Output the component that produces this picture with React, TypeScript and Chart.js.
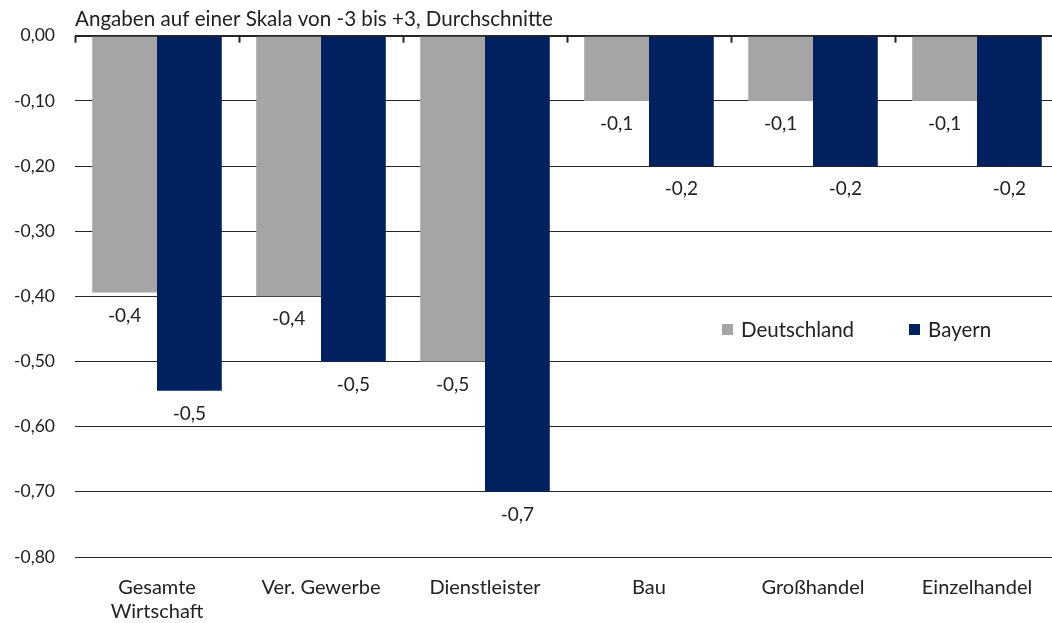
import React, { useEffect, useRef } from "react";
import { Chart, registerables } from "chart.js";

Chart.register(...registerables);

const categories: (string | string[])[] = [
  ["Gesamte", "Wirtschaft"],
  "Ver. Gewerbe",
  "Dienstleister",
  "Bau",
  "Großhandel",
  "Einzelhandel",
];
const deutschland = [-0.394, -0.4, -0.5, -0.1, -0.1, -0.1];
const bayern = [-0.545, -0.5, -0.7, -0.2, -0.2, -0.2];
const seriesNames = ["Deutschland", "Bayern"];
const colors = ["#a5a5a5", "#002060"];
const title = "Angaben auf einer Skala von -3 bis +3, Durchschnitte";

const FONT = "'Source Sans Pro', Lato, 'Noto Sans', sans-serif";

const fmt1 = (v: number) => v.toFixed(1).replace(".", ",");
const fmt2 = (v: number) => v.toFixed(2).replace(".", ",");

const labelPlugin = {
  id: "valueLabels",
  afterDatasetsDraw(chart: any) {
    const ctx = chart.ctx;
    ctx.save();
    ctx.font = `19px ${FONT}`;
    ctx.fillStyle = "#222";
    ctx.textAlign = "center";
    ctx.textBaseline = "middle";
    chart.data.datasets.forEach((ds: any, di: number) => {
      const meta = chart.getDatasetMeta(di);
      meta.data.forEach((bar: any, i: number) => {
        ctx.fillText(fmt1(ds.data[i]), bar.x, bar.y + 23);
      });
    });
    ctx.restore();
  },
};

const topTicksPlugin = {
  id: "topTicks",
  afterDraw(chart: any) {
    const x = chart.scales.x;
    const { top } = chart.chartArea;
    const ctx = chart.ctx;
    const n = categories.length;
    const w = (x.right - x.left) / n;
    ctx.save();
    ctx.strokeStyle = "#262626";
    ctx.lineWidth = 2;
    for (let i = 0; i <= n; i++) {
      const px = Math.round(x.left + i * w) + 0.5;
      ctx.beginPath();
      ctx.moveTo(px, top);
      ctx.lineTo(px, top + 7);
      ctx.stroke();
    }
    ctx.restore();
  },
};

export default function App() {
  const ref = useRef<HTMLCanvasElement>(null);

  useEffect(() => {
    document.body.style.margin = "0";
    const chart = new Chart(ref.current!, {
      type: "bar",
      data: {
        labels: categories,
        datasets: [
          { label: seriesNames[0], data: deutschland, backgroundColor: colors[0] },
          { label: seriesNames[1], data: bayern, backgroundColor: colors[1] },
        ],
      },
      options: {
        animation: false,
        responsive: false,
        maintainAspectRatio: false,
        layout: { padding: { left: 0, right: 0, top: 0, bottom: 0 } },
        datasets: { bar: { barPercentage: 1, categoryPercentage: 0.79 } },
        plugins: {
          legend: { display: false },
          tooltip: { enabled: false },
          title: {
            display: true,
            text: title,
            align: "start",
            fullSize: false,
            color: "#222",
            font: { family: FONT, size: 20.6, weight: "normal", lineHeight: 1.2 },
            padding: { top: 7, bottom: 4 },
          },
        },
        scales: {
          x: {
            grid: { display: false },
            border: { display: false },
            afterFit: (s: any) => {
              s.height = 66;
            },
            ticks: {
              color: "#222",
              font: { family: FONT, size: 20, lineHeight: 1.22 },
              padding: 10,
              maxRotation: 0,
              autoSkip: false,
            },
          },
          y: {
            min: -0.8,
            max: 0,
            border: { display: false },
            afterFit: (s: any) => {
              s.width = 75;
            },
            grid: {
              drawTicks: false,
              color: "#262626",
              lineWidth: (c: any) => (c.tick && c.tick.value === 0 ? 2 : 1),
            },
            ticks: {
              stepSize: 0.1,
              color: "#222",
              padding: 20,
              font: { family: FONT, size: 17.5 },
              callback: (v: any) => fmt2(Number(v)),
            },
          },
        },
      },
      plugins: [labelPlugin, topTicksPlugin],
    });
    return () => chart.destroy();
  }, []);

  return (
    <div style={{ position: "relative", width: 1052, height: 623, overflow: "hidden" }}>
      <canvas ref={ref} width={1059} height={623} style={{ display: "block" }} />
      <div
        style={{
          position: "absolute",
          left: 722,
          top: 317,
          display: "flex",
          alignItems: "center",
          fontFamily: FONT,
          fontSize: 20.5,
          color: "#222",
        }}
      >
        {seriesNames.map((n, i) => (
          <div key={n} style={{ display: "flex", alignItems: "center", marginRight: i === 0 ? 55 : 0 }}>
            <span style={{ width: 11, height: 11, background: colors[i], display: "inline-block", marginRight: 8 }} />
            <span>{n}</span>
          </div>
        ))}
      </div>
    </div>
  );
}
